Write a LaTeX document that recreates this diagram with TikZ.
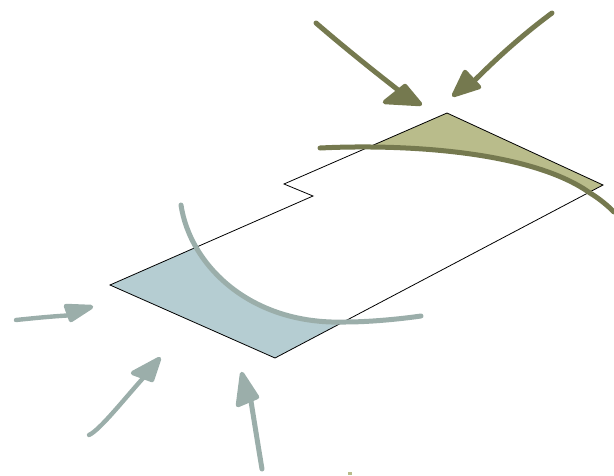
\documentclass[tikz,border=0pt]{standalone}
\usepackage{xcolor}
\usepackage{tikz}
\definecolor{moss}{HTML}{75794F}
\definecolor{mosssoft}{HTML}{B9BC8B}
\definecolor{sage}{HTML}{9BAEAA}
\definecolor{sagesoft}{HTML}{B5CDD2}
\tikzset{
  outline/.style={draw=black,line width=0.8pt,line join=miter},
  pen/.style={line width=5pt,line cap=round,line join=round},
  thinpen/.style={line width=4.4pt,line cap=round,line join=round},
  tip/.style={line width=4.5pt,line join=round}}

\begin{document}
\begin{tikzpicture}[x=1pt,y=-1pt]
\useasboundingbox (0,0) rectangle (614,475);
% shaded corners
\begin{scope}
\clip (447,113) -- (603,185) -- (275,358) -- (110,285) -- (313,196) -- (284,184) -- cycle;
\fill[mosssoft] (320,148) .. controls (400,144) and (530,150) .. (590,193) .. controls (600,199) and (608,206) .. (614,212) -- (614,100) -- (320,100) -- cycle;
\fill[sagesoft] (181,205) .. controls (190,265) and (250,325) .. (345,322) .. controls (370,322) and (400,319) .. (421,316) -- (421,400) -- (100,400) -- (100,205) -- cycle;
\end{scope}
% plan outline
\draw[outline] (447,113) -- (603,185) -- (275,358) -- (110,285) -- (313,196) -- (284,184) -- cycle;
% edge curves
\draw[pen,draw=moss] (320,148) .. controls (400,144) and (530,150) .. (590,193) .. controls (600,199) and (608,206) .. (614,212);
\draw[pen,draw=sage] (181,205) .. controls (190,265) and (250,325) .. (345,322) .. controls (370,322) and (400,319) .. (421,316);
% upper arrows
\draw[pen,draw=moss] (316,23) .. controls (345,48) and (375,72) .. (402,93);
\filldraw[tip,draw=moss,fill=moss] (385,102) -- (405,86) -- (420,104) -- cycle;
\draw[pen,draw=moss] (552,13) .. controls (525,33) and (500,55) .. (475,80);
\filldraw[tip,draw=moss,fill=moss] (465,72) -- (479,87) -- (454,95) -- cycle;
% lower arrows
\draw[thinpen,draw=sage] (16,320) .. controls (35,318) and (55,316) .. (76,315);
\filldraw[tip,draw=sage,fill=sage] (66,306) -- (91,307) -- (71,320) -- cycle;
\draw[thinpen,draw=sage] (89,435) .. controls (100,430) and (125,398) .. (145,376);
\filldraw[tip,draw=sage,fill=sage] (133,373) -- (159,359) -- (152,380) -- cycle;
\draw[pen,draw=sage] (262,469) .. controls (258,445) and (254,420) .. (250,395);
\filldraw[tip,draw=sage,fill=sage] (242,374) -- (257,397) -- (238,405) -- cycle;
% stray mark
\fill[mosssoft] (348,472) rectangle (352,475);
\end{tikzpicture}
\end{document}
